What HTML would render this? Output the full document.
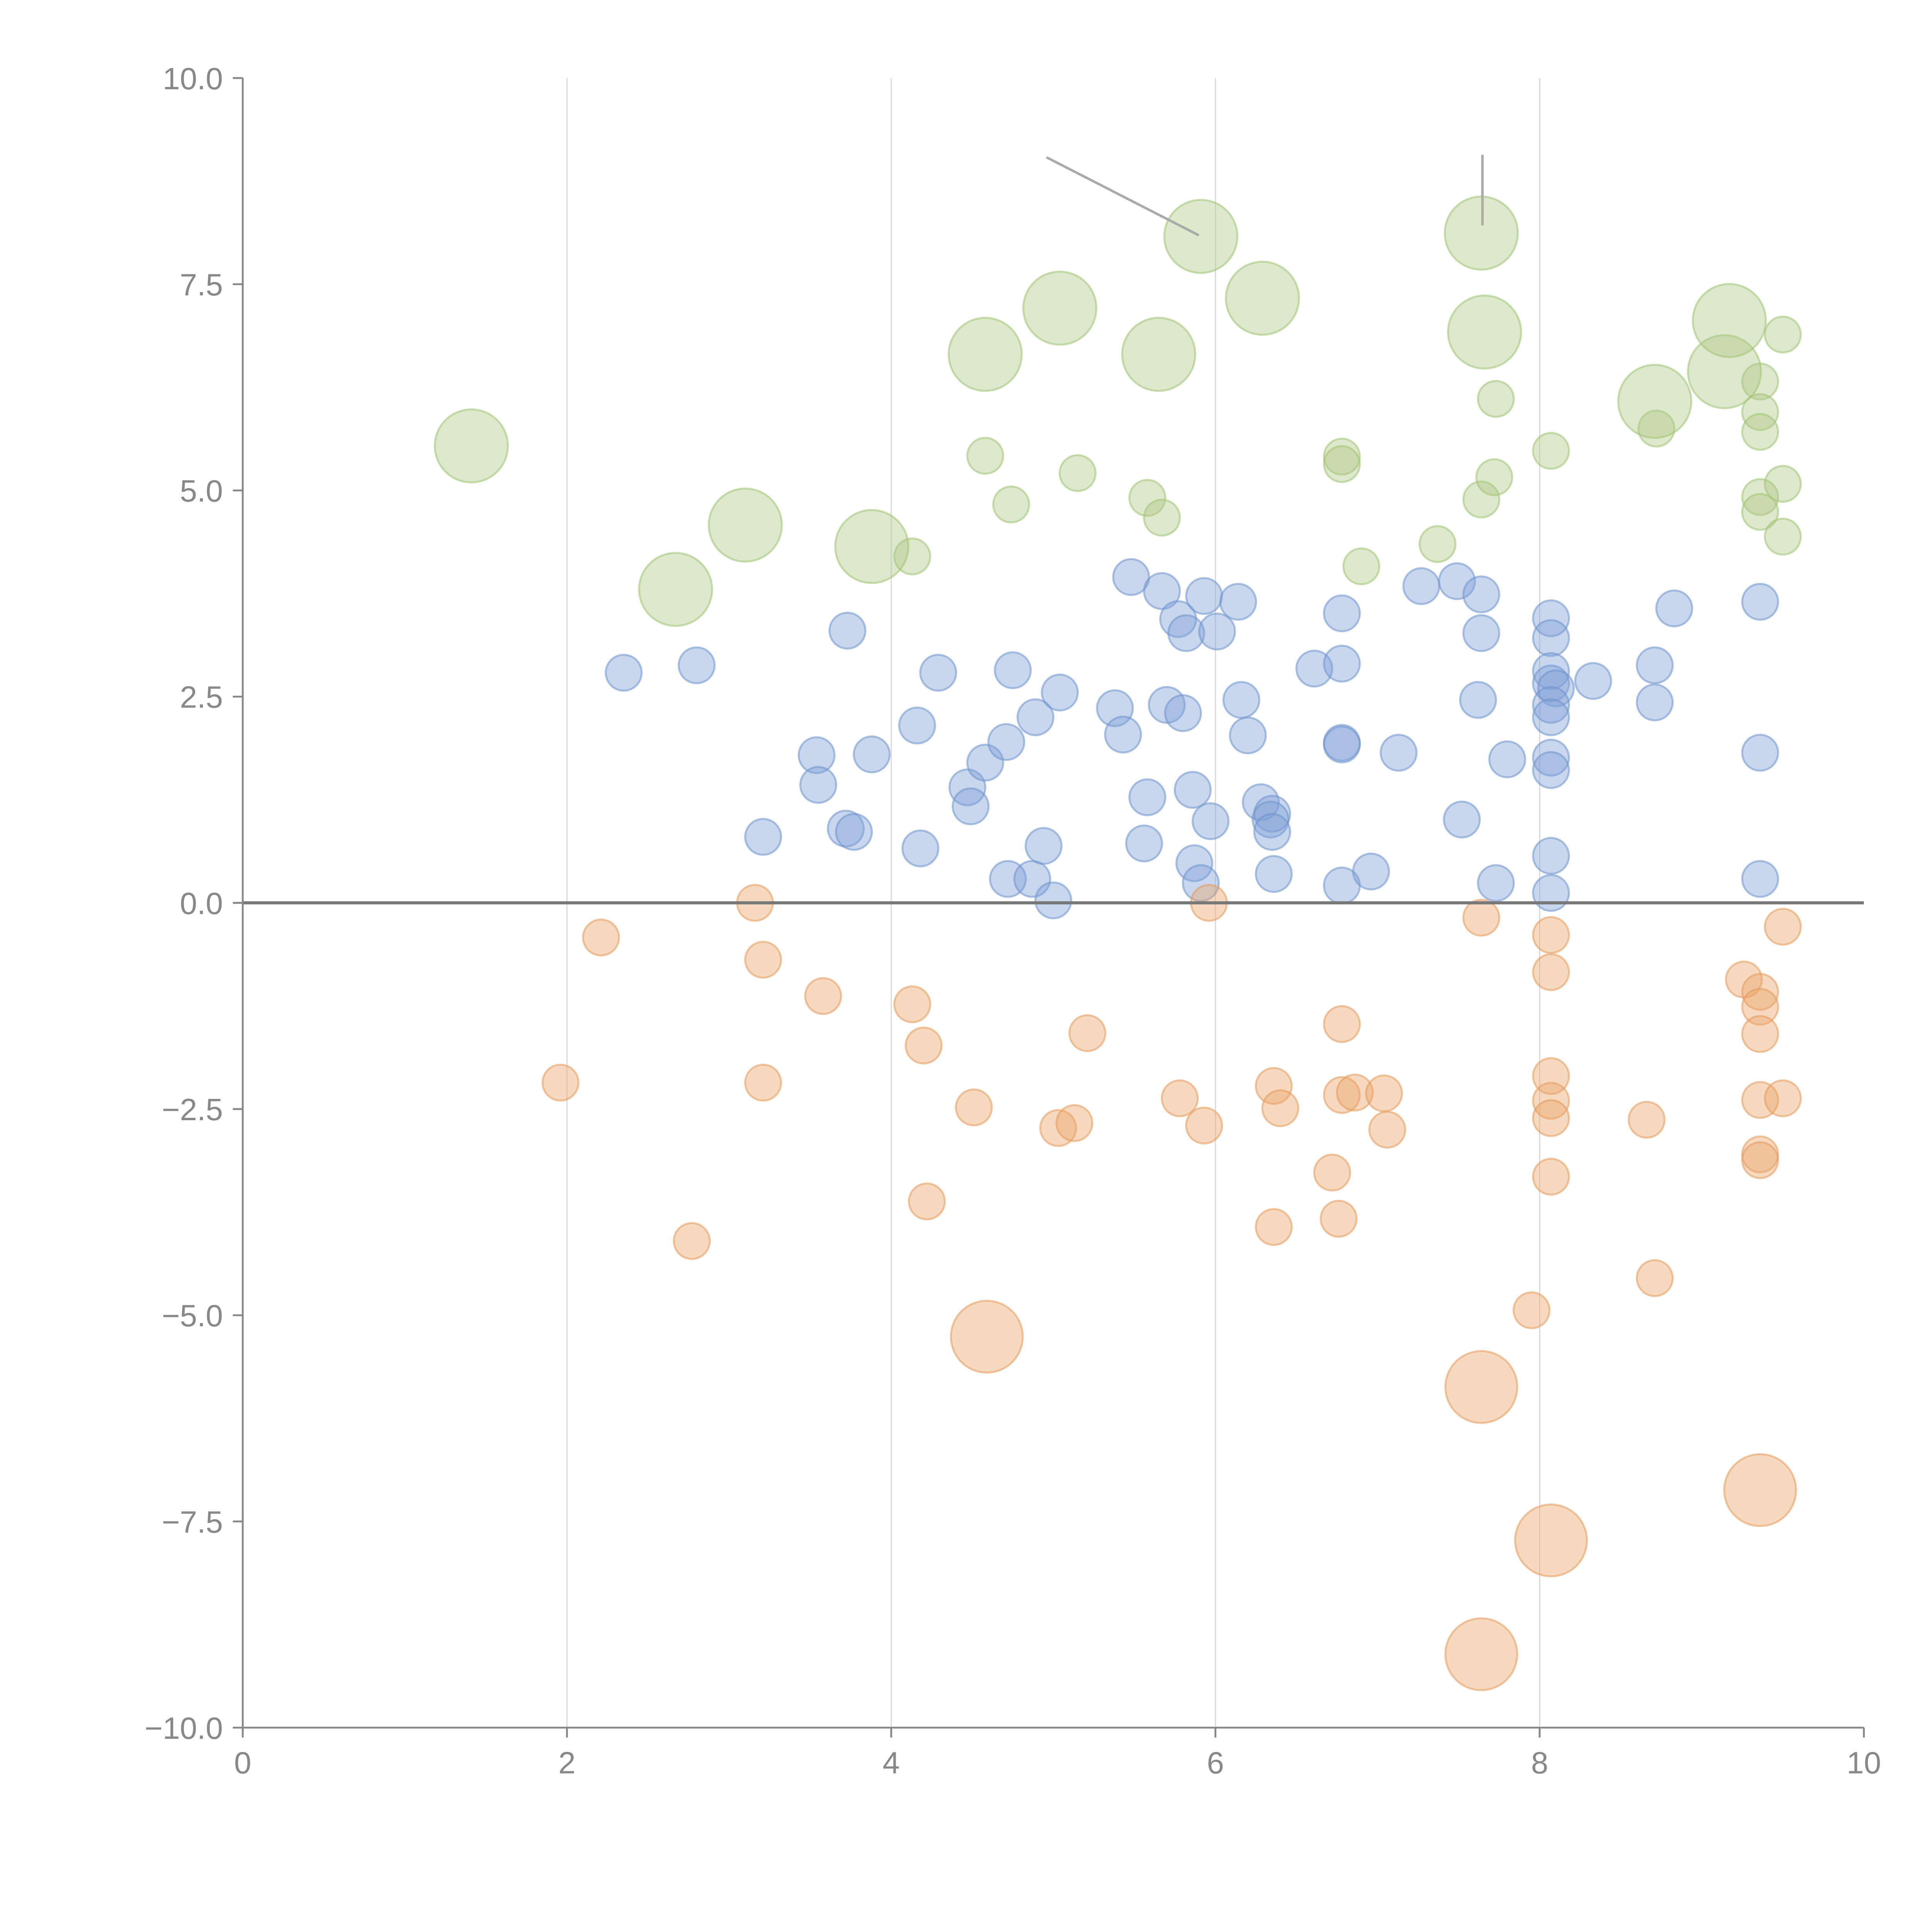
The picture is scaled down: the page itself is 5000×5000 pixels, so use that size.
<!DOCTYPE html>
<html><head><meta charset="utf-8"><style>
html,body{margin:0;padding:0;background:#fff;}
svg{display:block;}
text{font-family:"Liberation Sans",Arial,sans-serif;fill:#888;font-size:25px;}
</style></head><body>
<svg id="chart" width="5000" height="5000" viewBox="0 0 1560 1560" xmlns="http://www.w3.org/2000/svg">
<g id="grid"></g>
<g id="marks"></g>
<g id="axes"></g>
</svg>
<script>
const xTicks=[0,2,4,6,8,10];
const yTicks=[-10,-7.5,-5,-2.5,0,2.5,5,7.5,10];
const yTickLabels=["\u221210.0","\u22127.5","\u22125.0","\u22122.5","0.0","2.5","5.0","7.5","10.0"];
const greenBigX=[1.41,2.67,3.10,3.88,4.58,5.04,5.65,5.91,6.29,7.64,7.66,8.71,9.14,9.17];
const greenBigY=[5.54,3.80,4.58,4.32,6.65,7.21,6.65,8.08,7.33,8.12,6.92,6.08,6.44,7.06];
const greenX=[4.13,4.58,4.74,5.15,5.58,5.67,6.78,6.78,6.90,7.37,7.64,7.72,7.73,8.07,8.72,9.36,9.36,9.36,9.36,9.36,9.50,9.50,9.50];
const greenY=[4.20,5.42,4.83,5.21,4.91,4.67,5.41,5.32,4.08,4.35,4.89,5.16,6.11,5.48,5.75,6.32,5.95,5.71,4.92,4.74,6.89,5.08,4.44];
const blueX=[2.35,2.80,3.21,3.54,3.55,3.73,3.72,3.77,3.88,4.16,4.18,4.29,4.47,4.49,4.58,4.71,4.75,4.72,4.89,4.87,4.94,5.04,5.00,5.38,5.43,5.48,5.58,5.56,5.67,5.70,5.77,5.80,5.82,5.86,5.87,5.91,5.93,5.97,6.01,6.14,6.16,6.20,6.28,6.35,6.34,6.35,6.36,6.61,6.78,6.78,6.78,6.78,6.78,6.96,7.13,7.27,7.49,7.52,7.64,7.64,7.62,7.73,7.80,8.07,8.07,8.07,8.07,8.10,8.07,8.07,8.07,8.07,8.07,8.07,8.33,8.71,8.71,8.83,9.36,9.36,9.36];
const blueY=[2.79,2.88,0.80,1.79,1.43,3.30,0.90,0.86,1.80,2.15,0.66,2.79,1.40,1.17,1.70,1.95,2.82,0.29,2.25,0.29,0.69,2.55,0.03,2.36,2.04,3.95,1.28,0.72,3.78,2.40,3.44,2.30,3.27,1.37,0.48,0.24,3.72,0.99,3.29,3.65,2.46,2.03,1.22,1.08,1.01,0.86,0.35,2.84,3.51,2.90,1.94,1.92,0.21,0.38,1.82,3.84,3.90,1.01,3.74,3.27,2.46,0.24,1.74,3.45,3.21,2.81,2.66,2.60,2.40,2.25,1.76,1.61,0.57,0.12,2.69,2.88,2.43,3.57,3.65,1.82,0.29];
const orangeX=[1.96,2.21,2.77,3.16,3.21,3.21,3.58,4.13,4.20,4.22,4.51,5.03,5.13,5.21,5.78,5.93,5.96,6.36,6.40,6.36,6.72,6.76,6.78,6.78,6.86,7.04,7.06,7.64,7.95,8.07,8.07,8.07,8.07,8.07,8.07,8.66,8.71,9.26,9.36,9.36,9.36,9.36,9.36,9.36,9.50,9.50];
const orangeY=[-2.18,-0.42,-4.10,0.0,-0.69,-2.18,-1.13,-1.23,-1.73,-3.62,-2.48,-2.73,-2.67,-1.58,-2.37,-2.70,0.0,-2.22,-2.49,-3.93,-3.27,-3.83,-1.47,-2.33,-2.30,-2.31,-2.75,-0.18,-4.94,-0.39,-0.84,-2.10,-2.40,-2.61,-3.32,-2.63,-4.55,-0.93,-1.08,-1.26,-1.59,-2.39,-3.05,-3.12,-0.29,-2.37];
const orangeBigX=[4.59,7.64,9.36,8.07,7.64];
const orangeBigY=[-5.26,-5.87,-7.12,-7.73,-9.11];

const X0=196,X1=1505,Y0=1395,Y1=63;
const sx=v=>X0+(v-0)/(10-0)*(X1-X0);
const sy=v=>Y0-(v+10)/20*(Y0-Y1);
const NS="http://www.w3.org/2000/svg";
function mk(tag,attrs,parent){const e=document.createElementNS(NS,tag);for(const k in attrs)e.setAttribute(k,attrs[k]);parent.appendChild(e);return e;}
const grid=document.getElementById('grid'),marks=document.getElementById('marks'),axes=document.getElementById('axes');

xTicks.forEach(t=>{if(t>0&&t<10){const l=mk('line',{x1:sx(t),x2:sx(t),y1:Y1,y2:Y0,stroke:'#dcdcdc','stroke-width':1},grid);

}});

function series(xs,ys,r,fill,stroke,name){
  xs.forEach((x,i)=>{const c=mk('circle',{cx:sx(x),cy:sy(ys[i]),r:r,fill:fill,'fill-opacity':0.42,stroke:stroke,'stroke-opacity':0.55,'stroke-width':1.6},marks);
  
  });
}
series(blueX,blueY,14.5,'#7fa0d6','#6f93cc','blue-bubble');
series(orangeX,orangeY,14.5,'#eba46a','#e39a5c','orange-bubble');
series(orangeBigX,orangeBigY,29,'#eba46a','#e39a5c','orange-large-bubble');
series(greenX,greenY,14.5,'#afc985','#a3c275','green-bubble');
series(greenBigX,greenBigY,29.5,'#afc985','#a3c275','green-large-bubble');

// leader lines
let ll=mk('line',{x1:845,y1:127,x2:968,y2:190,stroke:'#aaa','stroke-width':2},marks);


ll=mk('line',{x1:1197,y1:125,x2:1197,y2:182,stroke:'#aaa','stroke-width':2},marks);



// zero line
const z=mk('line',{x1:X0,x2:X1,y1:sy(0),y2:sy(0),stroke:'#777','stroke-width':2.5},axes);


// axis lines
const ya=mk('line',{x1:X0,x2:X0,y1:Y1,y2:Y0,stroke:'#888','stroke-width':1.5},axes);


const xa=mk('line',{x1:X0,x2:X1,y1:Y0,y2:Y0,stroke:'#888','stroke-width':1.5},axes);


yTicks.forEach((t,i)=>{const y=sy(t);
  const tk=mk('line',{x1:X0-8,x2:X0,y1:y,y2:y,stroke:'#888','stroke-width':1.5},axes);
  
  
  const tx=mk('text',{x:X0-16,y:y+9,'text-anchor':'end'},axes);tx.textContent=yTickLabels[i];
  
  });
xTicks.forEach(t=>{const x=sx(t);
  const tk=mk('line',{x1:x,x2:x,y1:Y0,y2:Y0+8,stroke:'#888','stroke-width':1.5},axes);
  
  
  const tx=mk('text',{x:x,y:Y0+37,'text-anchor':'middle'},axes);tx.textContent=String(t);
  
  });
</script>
</body></html>
